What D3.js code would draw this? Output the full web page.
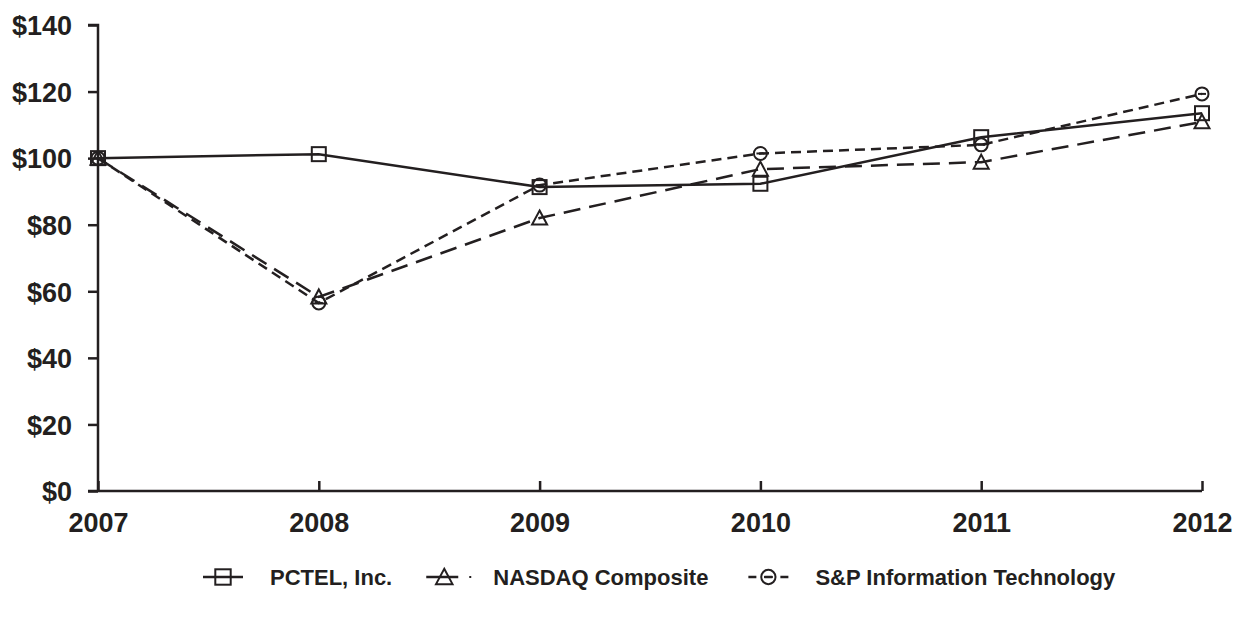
<!DOCTYPE html>
<html><head><meta charset="utf-8">
<script src="https://cdn.jsdelivr.net/npm/d3@7/dist/d3.min.js"></script>
<style>body{margin:0;background:#fff}svg{display:block}text{font-family:"Liberation Sans",Arial,sans-serif;font-weight:bold;fill:#231f20}</style>
</head><body><svg id="c" width="1235" height="618"></svg>
<script>
const years = [2007, 2008, 2009, 2010, 2011, 2012];
const pctel = [100, 101.2, 91.3, 92.3, 106.3, 113.5];
const nasdaq = [100, 58.3, 82.0, 96.7, 98.8, 110.9];
const spit = [100, 56.5, 91.9, 101.4, 104.0, 119.3];
const yTicks = [0, 20, 40, 60, 80, 100, 120, 140];
const seriesNames = ["PCTEL, Inc.", "NASDAQ Composite", "S&P Information Technology"];

const ink = "#231f20";
const FONT = '"Liberation Sans",Arial,sans-serif';
const svg = d3.select("#c");
const x = d3.scaleLinear().domain([2007, 2012]).range([98, 1202]);
const y = d3.scaleLinear().domain([0, 140]).range([491, 25]);

// y axis
const ya = svg.append("g").attr("transform", "translate(98,0)")
  .call(d3.axisLeft(y).tickValues(yTicks).tickSize(10).tickPadding(16).tickFormat(d => "$" + d));
ya.select(".domain").attr("stroke", ink).attr("stroke-width", 2.5).attr("d", "M-10,25H0V491");
ya.selectAll(".tick line").attr("stroke", ink).attr("stroke-width", 2.5);
ya.selectAll(".tick text").style("font-size", "27px").style("font-family", FONT).style("font-weight", "bold").attr("fill", ink).attr("dy", "0.36em");

// x axis
const xa = svg.append("g").attr("transform", "translate(0,491)")
  .call(d3.axisBottom(x).tickValues(years).tickSize(-10).tickPadding(22).tickFormat(d3.format("d")));
xa.select(".domain").attr("stroke", ink).attr("stroke-width", 2.5).attr("d", "M88,0H1202");
xa.selectAll(".tick line").attr("stroke", ink).attr("stroke-width", 2.5);
xa.selectAll(".tick text").style("font-size", "27px").style("font-family", FONT).style("font-weight", "bold").attr("fill", ink);

const series = [
  {name: seriesNames[0], vals: pctel, dash: null, marker: "square"},
  {name: seriesNames[1], vals: nasdaq, dash: "17,9", marker: "triangle"},
  {name: seriesNames[2], vals: spit, dash: "10,6", marker: "circle"}
];

const line = d3.line().x((d, i) => x(years[i])).y(d => y(d));

function drawMarker(g, type, cx, cy, s) {
  s = s || 1;
  if (type === "square") {
    g.append("rect").attr("x", cx - 7 * s).attr("y", cy - 7 * s).attr("width", 14 * s).attr("height", 14 * s)
      .attr("fill", "none").attr("stroke", ink).attr("stroke-width", 2);
  } else if (type === "triangle") {
    g.append("path").attr("d", `M${cx},${cy - 7.5 * s}L${cx + 7.5 * s},${cy + 6.5 * s}L${cx - 7.5 * s},${cy + 6.5 * s}Z`)
      .attr("fill", "none").attr("stroke", ink).attr("stroke-width", 2);
  } else {
    g.append("circle").attr("cx", cx).attr("cy", cy).attr("r", 6.5 * s)
      .attr("fill", "none").attr("stroke", ink).attr("stroke-width", 2);
    g.append("line").attr("x1", cx - 4 * s).attr("x2", cx + 4 * s).attr("y1", cy).attr("y2", cy)
      .attr("stroke", ink).attr("stroke-width", 2);
  }
}

// draw order: S&P, NASDAQ, PCTEL
[series[2], series[1], series[0]].forEach(s => {
  svg.append("path").datum(s.vals).attr("d", line).attr("fill", "none")
    .attr("stroke", ink).attr("stroke-width", 2.5).attr("stroke-dasharray", s.dash);
});
series.forEach(s => {
  const g = svg.append("g");
  s.vals.forEach((v, i) => drawMarker(g, s.marker, x(years[i]), y(v)));
});

// legend
const lg = svg.append("g");
const ly = 577;
const lfs = 22;
function legText(xp, t) {
  return lg.append("text").attr("x", xp).attr("y", ly + 8).style("font-size", lfs + "px").text(t);
}
// PCTEL
let cx = 203;
lg.append("line").attr("x1", cx).attr("x2", cx + 40).attr("y1", ly).attr("y2", ly).attr("stroke", ink).attr("stroke-width", 2.5);
drawMarker(lg, "square", cx + 20, ly, 1.1);
let t = legText(cx + 67, seriesNames[0]);
cx = cx + 67 + t.node().getComputedTextLength() + 34;
// NASDAQ
lg.append("line").attr("x1", cx).attr("x2", cx + 32).attr("y1", ly).attr("y2", ly).attr("stroke", ink).attr("stroke-width", 2.5);
drawMarker(lg, "triangle", cx + 18, ly, 1.1);
lg.append("line").attr("x1", cx + 43).attr("x2", cx + 45).attr("y1", ly).attr("y2", ly).attr("stroke", ink).attr("stroke-width", 2);
t = legText(cx + 67, seriesNames[1]);
cx = cx + 67 + t.node().getComputedTextLength() + 40;
// S&P
lg.append("line").attr("x1", cx).attr("x2", cx + 40).attr("y1", ly).attr("y2", ly).attr("stroke", ink).attr("stroke-width", 2.5).attr("stroke-dasharray", "8,8");
drawMarker(lg, "circle", cx + 20, ly, 1.1);
legText(cx + 67, seriesNames[2]);
</script></body></html>
